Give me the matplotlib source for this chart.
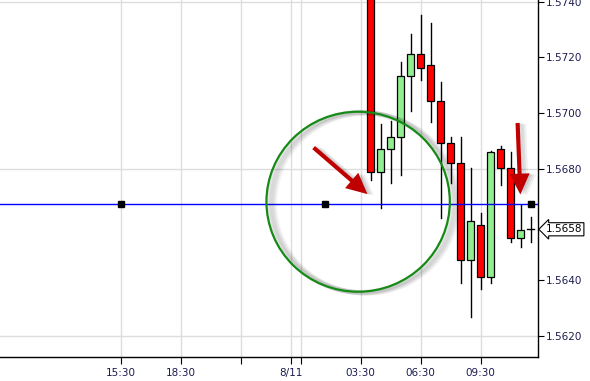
"""30-minute candles with a horizontal level, circle and arrow callouts."""
import matplotlib

matplotlib.use("Agg")
import matplotlib.pyplot as plt
from matplotlib.patches import Ellipse, FancyArrowPatch, Rectangle

# hours relative to 8/11 00:00
times = [4.0, 4.5, 5.0, 5.5, 6.0, 6.5, 7.0, 7.5, 8.0, 8.5, 9.0, 9.5, 10.0, 10.5, 11.0, 11.5, 12.0]
opens = [1.5752, 1.56789, 1.56869, 1.56912, 1.57132, 1.57211, 1.57171, 1.57042, 1.56891,
         1.56819, 1.56471, 1.56599, 1.56409, 1.56869, 1.56801, 1.56549, 1.56582]
highs = [1.5758, 1.56960, 1.56971, 1.57183, 1.57284, 1.57352, 1.57322, 1.57111, 1.56914,
         1.56912, 1.56801, 1.56639, 1.56862, 1.56881, 1.56860, 1.56669, 1.56627]
lows = [1.56759, 1.56660, 1.56749, 1.56778, 1.57008, 1.57118, 1.56968, 1.56621, 1.56749,
        1.56389, 1.56267, 1.56369, 1.56389, 1.56740, 1.56537, 1.56519, 1.56537]
closes = [1.56789, 1.56869, 1.56912, 1.57132, 1.57211, 1.57160, 1.57042, 1.56891, 1.56819,
          1.56470, 1.56610, 1.56409, 1.56860, 1.56801, 1.56549, 1.56581, 1.56582]

level = 1.56672
level_points = [-8.5, 1.73, 12.0]
last_price = 1.56582

x_ticks = [-8.5, -5.5, -2.5, 0.0, 0.5, 3.5, 6.5, 9.5]
x_labels = ["15:30", "18:30", "", "8/11", "", "03:30", "06:30", "09:30"]
y_ticks = [1.5620, 1.5640, 1.5680, 1.5700, 1.5720, 1.5740]
y_grid = [1.5620, 1.5680, 1.5740]

circle_center = (3.38, 1.56681)
circle_size = (9.17, 0.00647)
arrows = [((1.05, 1.56882), (3.95, 1.56702)), ((11.35, 1.56974), (11.5, 1.56697))]

UP = "#90ee90"
DOWN = "#ff0000"
TXT = "#1c1c50"
ARROW = "simple,head_length=1.5,head_width=1.45,tail_width=0.3"

fig = plt.figure(figsize=(5.9, 3.81), dpi=100)
ax = fig.add_axes([0.0, 24 / 381, 537.5 / 590, 1 - 24 / 381])
ax.set_xlim(-14.53, 12.35)
ax.set_ylim(1.56123, 1.57406)

for x in x_ticks:
    ax.axvline(x, color="#dddddd", lw=1, zorder=0)
for y in y_grid:
    ax.axhline(y, color="#dddddd", lw=1, zorder=0)

w = 0.33
for t, o, h, l, c in zip(times, opens, highs, lows, closes):
    ax.plot([t, t], [l, h], color="black", lw=1, zorder=2)
    if o == c:
        ax.plot([t - w / 2, t + w / 2], [o, o], color="black", lw=1, zorder=3)
        continue
    col = UP if c > o else DOWN
    ax.add_patch(Rectangle((t - w / 2, min(o, c)), w, abs(c - o), facecolor=col,
                           edgecolor="black", lw=0.9, zorder=3))

ax.axhline(level, color="#0000ff", lw=1.0, zorder=4)
ax.plot(level_points, [level] * len(level_points), "s", color="black", ms=4.5, zorder=5)

# circle with soft shadow toward lower right
for i, a in enumerate([0.05, 0.05, 0.05, 0.05, 0.04]):
    off = 0.1 + 0.08 * i
    ax.add_patch(Ellipse((circle_center[0] + off, circle_center[1] - off * 0.00014),
                         circle_size[0], circle_size[1], fill=False,
                         edgecolor="black", lw=3.5, alpha=a, zorder=5))
ax.add_patch(Ellipse(circle_center, circle_size[0], circle_size[1], fill=False,
                     edgecolor="#168a16", lw=1.6, zorder=6))

for (x0, y0), (x1, y1) in arrows:
    for i, a in enumerate([0.08, 0.07, 0.06]):
        off = 0.12 + 0.1 * i
        ax.add_patch(FancyArrowPatch((x0 + off, y0 - off * 0.00014), (x1 + off, y1 - off * 0.00014),
                                     arrowstyle=ARROW, mutation_scale=10, color="black",
                                     alpha=a, lw=0, zorder=6))
    ax.add_patch(FancyArrowPatch((x0, y0), (x1, y1), arrowstyle=ARROW, mutation_scale=10,
                                 color="#c00000", lw=0, zorder=7))

for s in ["top", "left"]:
    ax.spines[s].set_visible(False)
ax.spines["bottom"].set_linewidth(1.0)
ax.spines["right"].set_linewidth(1.0)
ax.yaxis.tick_right()
ax.set_xticks(x_ticks)
ax.set_xticklabels(x_labels)
ax.set_yticks(y_ticks)
ax.set_yticklabels([f"{v:.4f}" for v in y_ticks])
ax.tick_params(axis="x", length=5, width=0.8, pad=3, labelsize=7.5, labelcolor=TXT)
ax.tick_params(axis="y", length=4, width=0.8, pad=2, labelsize=7.5, labelcolor=TXT)

ax.annotate(f"{last_price:.4f}", xy=(1.0, last_price), xycoords=("axes fraction", "data"),
            xytext=(6, 0), textcoords="offset points", va="center", ha="left",
            fontsize=7.5, color="black",
            bbox=dict(boxstyle="larrow,pad=0.15", fc="white", ec="black", lw=0.8))

fig.savefig("out.png", dpi=100)
